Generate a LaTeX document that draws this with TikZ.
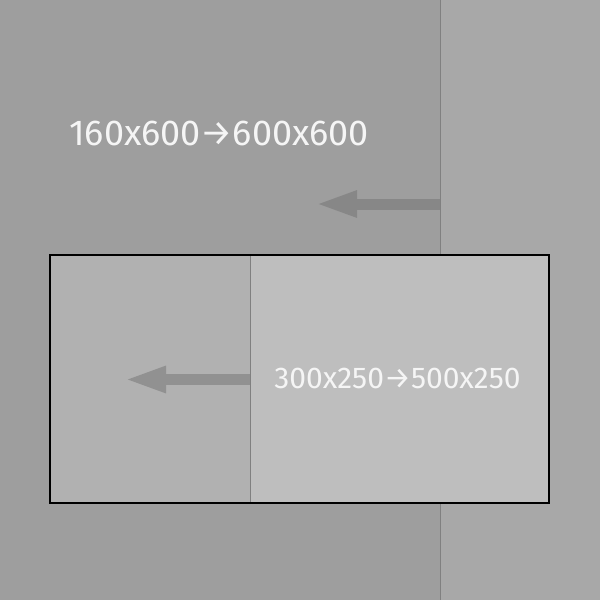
\documentclass[tikz,border=0pt]{standalone}
\usepackage{fontspec}
\setmainfont{Fira Sans}
\usetikzlibrary{arrows.meta, positioning}
\definecolor{bgleft}{HTML}{9E9E9E}
\definecolor{bgright}{HTML}{A8A8A8}
\definecolor{boxleft}{HTML}{B1B1B1}
\definecolor{boxright}{HTML}{BEBEBE}
\definecolor{divider}{HTML}{808080}
\definecolor{arrowdark}{HTML}{878787}
\definecolor{arrowlight}{HTML}{919191}
\tikzset{
    x=1pt, y=-1pt, % pixel-like coordinates
    panel/.style={draw=none, inner sep=0pt, outer sep=0pt, anchor=north west}, % flat filled areas
    sizelabel/.style={text=white!96!black, inner sep=0pt}, % white size texts
}
\tikzstyle{bigarrow} = [line width=11pt, -{Triangle[length=42pt,width=24pt]}]

\begin{document}
\begin{tikzpicture}
    \useasboundingbox (0,0) rectangle (600,600);
    % Sfondo
    \node[panel, fill=bgleft, minimum width=440pt, minimum height=600pt] (sky) at (0,0) {};
    \node[panel, fill=bgright, minimum width=160pt, minimum height=600pt] (side) at (sky.north east) {};
    \draw[divider, line width=1pt] (side.north west) -- (side.south west);

    % Riquadro
    \node[panel, fill=boxleft, minimum width=200pt, minimum height=248pt] (boxl) at (50,255) {};
    \node[panel, fill=boxright, minimum width=299pt, minimum height=248pt] (boxr) at (boxl.north east) {};
    \draw[divider, line width=1pt] (boxr.north west) -- (boxr.south west);
    \draw[black, line width=1.2pt] (boxl.north west) rectangle (boxr.south east);

    % Frecce
    \coordinate (skyedge) at (440,204);
    \coordinate (skytip) at (315,204);
    \coordinate (boxedge) at (250,379.5);
    \coordinate (boxtip) at (124,379.5);
    \draw[bigarrow, arrowdark] (skyedge) -- (skytip);
    \draw[bigarrow, arrowlight] (boxedge) -- (boxtip);

    % Testi
    \node[sizelabel, font=\fontsize{36}{40}\selectfont] (skytext) at (219,133) {160x600→600x600};
    \node[sizelabel, font=\fontsize{30}{34}\selectfont] (boxtext) at (397.5,378) {300x250→500x250};
\end{tikzpicture}
\end{document}
